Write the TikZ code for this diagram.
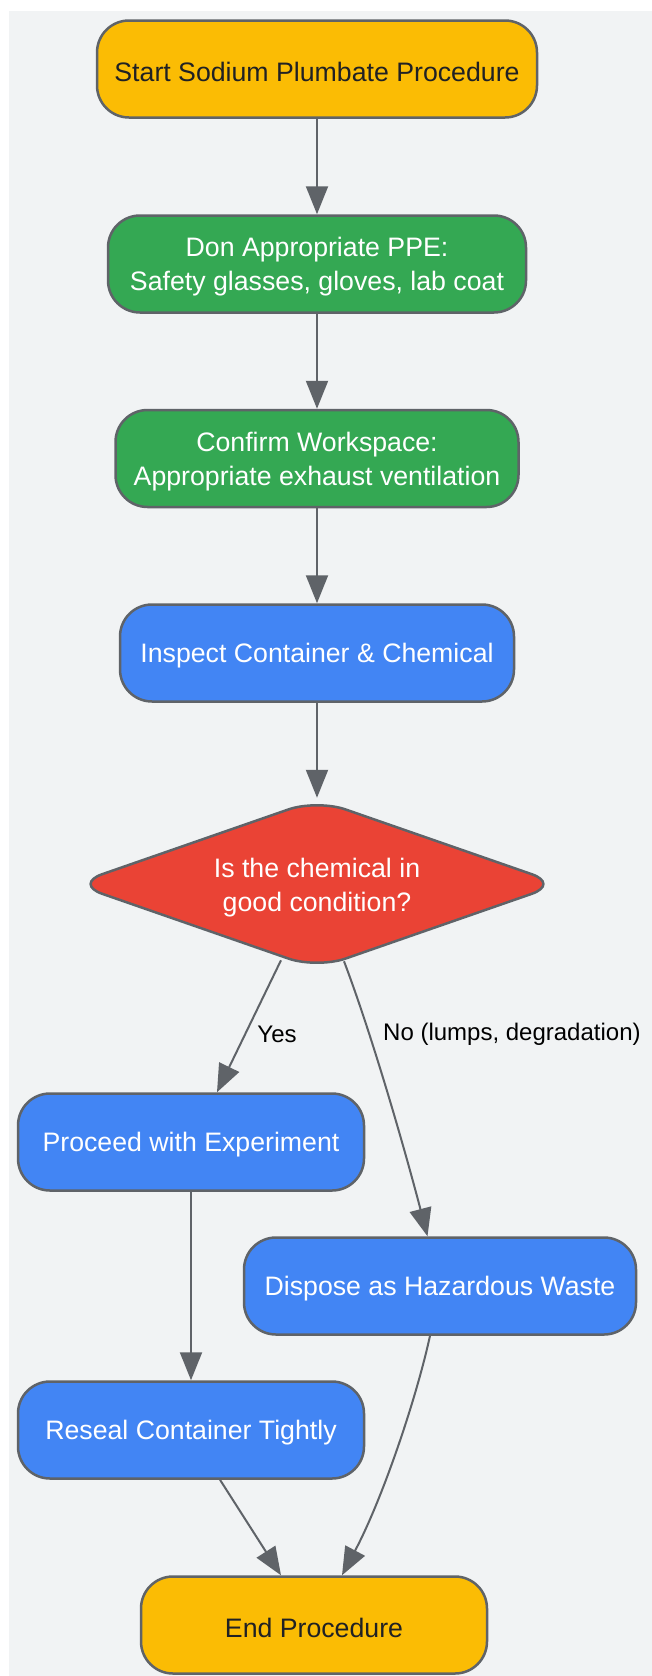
\documentclass[tikz,border=0pt]{standalone}
\usepackage{fontspec}
\setmainfont{Liberation Sans}
\usetikzlibrary{shapes.geometric,arrows.meta,calc}
\definecolor{gyellow}{HTML}{FBBC04}
\definecolor{ggreen}{HTML}{34A853}
\definecolor{gblue}{HTML}{4285F4}
\definecolor{gred}{HTML}{EA4335}
\definecolor{edgegray}{HTML}{5F6368}
\definecolor{bggray}{HTML}{F1F3F4}
\definecolor{darktext}{HTML}{202124}
\newcommand{\tstrut}{\rule{0pt}{25.5pt}}
\newcommand{\dstrut}{\rule{0pt}{27pt}}
\begin{document}
\begin{tikzpicture}[x=1pt,y=-1pt,
  box/.style={draw=edgegray, line width=2.5pt, rounded corners=32pt, inner sep=0pt,
    align=center, minimum height=97pt, font=\fontsize{26.7}{34}\selectfont},
  term/.style={box, fill=gyellow, text=darktext},
  prep/.style={box, fill=ggreen, text=white},
  act/.style={box, fill=gblue, text=white},
  dec/.style={diamond, aspect=2.865, draw=edgegray, line width=2.5pt, fill=gred, text=white,
    rounded corners=30pt, inner sep=0pt, align=center,
    minimum width=487pt, minimum height=170pt, font=\fontsize{26.7}{34}\selectfont},
  conn/.style={draw=edgegray, line width=2pt, -{Triangle[length=28pt,width=22pt]}},
  lbl/.style={font=\fontsize{24}{28}\selectfont, text=black, inner sep=0pt}
]
\fill[white] (0,0) rectangle (652,1676);
\useasboundingbox (0,0) rectangle (652,1676);
\fill[bggray] (8.5,10.7) rectangle (652,1676);

\node[term, minimum width=440pt] (start) at (317,69) {\tstrut Start Sodium Plumbate Procedure};
\node[prep, minimum width=418pt] (ppe) at (317,264) {\tstrut Don Appropriate PPE:\\Safety glasses, gloves, lab coat};
\node[prep, minimum width=403pt] (ws) at (317,458.5) {\tstrut Confirm Workspace:\\Appropriate exhaust ventilation};
\node[act, minimum width=394pt] (insp) at (317,653) {\tstrut Inspect Container \& Chemical};
\node[dec] (cond) at (317,884) {\dstrut Is the chemical in\\good condition?};
\node[act, minimum width=346pt] (proc) at (191,1142) {\tstrut Proceed with Experiment};
\node[act, minimum width=392pt] (disp) at (440,1286) {\tstrut Dispose as Hazardous Waste};
\node[act, minimum width=346pt] (reseal) at (191,1430) {\tstrut Reseal Container Tightly};
\node[term, minimum width=346pt] (endp) at (314,1625) {\tstrut End Procedure};

\draw[conn] (start) -- (ppe);
\draw[conn] (ppe) -- (ws);
\draw[conn] (ws) -- (insp);
\draw[conn] (insp) -- (cond);
\draw[conn] ($(cond.south)+(-36,-10)$) -- ($(proc.north)+(26,0)$);
\draw[conn] ($(cond.south)+(27,-9)$) .. controls (372,1035) and (405,1150) .. ($(disp.north)+(-12.5,0)$);
\draw[conn] (proc) -- (reseal);
\draw[conn] ($(reseal.south)+(29,0)$) -- ($(endp.north)+(-33,0)$);
\draw[conn] ($(disp.south)+(-10,0)$) .. controls (416,1400) and (382,1500) .. ($(endp.north)+(28,0)$);

\node[lbl] (yes) at (277,1034) {Yes};
\node[lbl, anchor=west] (no) at (383,1034) {No (lumps, degradation)};
\end{tikzpicture}
\end{document}
